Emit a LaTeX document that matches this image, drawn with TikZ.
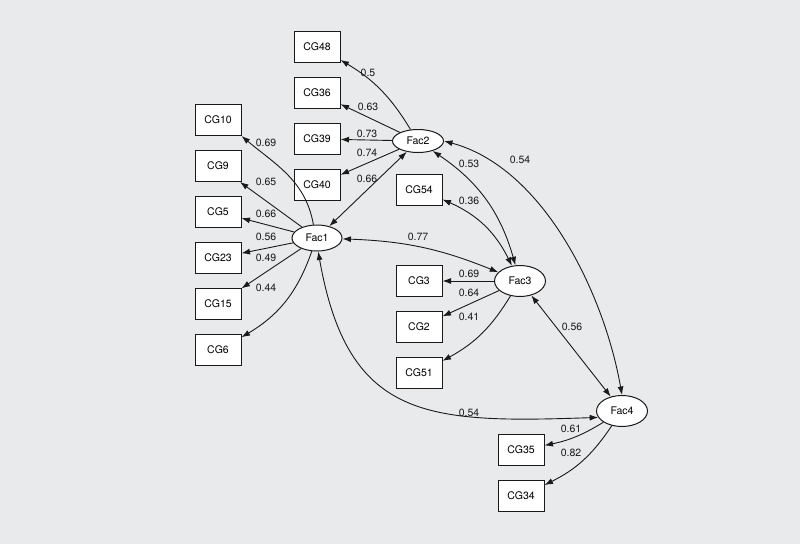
\documentclass[tikz,border=0pt]{standalone}
\usepackage{fontspec}
\setmainfont{TeX Gyre Heros}
\usetikzlibrary{arrows.meta,shapes.geometric}
\definecolor{bg}{HTML}{E9EAEC}
\definecolor{ln}{HTML}{1A1A1A}
\begin{document}
\begin{tikzpicture}[x=1pt,y=1pt, font=\fontsize{10.5}{12}\selectfont,
 obs/.style={draw=ln, fill=white, line width=1pt, minimum width=46pt, minimum height=31pt, inner sep=0pt},
 lat/.style={draw=ln, fill=white, ellipse, line width=1pt, minimum width=51pt, minimum height=29pt, inner sep=0pt},
 arr/.style={-{Latex[length=8.5pt,width=6pt]}, line width=0.9pt, draw=ln},
 darr/.style={{Latex[length=8.5pt,width=6pt]}-{Latex[length=8.5pt,width=6pt]}, line width=0.9pt, draw=ln},
 lbl/.style={text=ln, inner sep=0pt}]
\fill[bg] (0,0) rectangle (800,-544);
\useasboundingbox (0,0) rectangle (800,-544);
% observed
\node[obs] (cg48) at (317,-47) {CG48};
\node[obs] (cg36) at (317,-93) {CG36};
\node[obs] (cg39) at (317,-139) {CG39};
\node[obs] (cg40) at (317,-185) {CG40};
\node[obs] (cg10) at (218,-120) {CG10};
\node[obs] (cg9) at (218,-166) {CG9};
\node[obs] (cg5) at (218,-212) {CG5};
\node[obs] (cg23) at (218,-258) {CG23};
\node[obs] (cg15) at (218,-304) {CG15};
\node[obs] (cg6) at (218,-350) {CG6};
\node[obs] (cg54) at (419,-190) {CG54};
\node[obs] (cg3) at (419,-281) {CG3};
\node[obs] (cg2) at (419,-327) {CG2};
\node[obs] (cg51) at (419,-373) {CG51};
\node[obs] (cg35) at (521,-450) {CG35};
\node[obs] (cg34) at (521,-496) {CG34};
% latent
\node[lat, minimum height=23pt] (f2) at (418,-141) {Fac2};
\node[lat, minimum width=50pt, minimum height=26pt] (f1) at (317,-238) {Fac1};
\node[lat, minimum height=31pt] (f3) at (520,-281) {Fac3};
\node[lat, minimum height=31pt] (f4) at (622,-411) {Fac4};
% Fac2 loadings
\draw[arr] (f2) to[bend right=14] (cg48);
\draw[arr] (f2) -- (cg36);
\draw[arr] (f2) -- (cg39);
\draw[arr] (f2) -- (cg40);
% Fac1 loadings
\draw[arr] (f1.105) to[out=100,in=-40] (cg10.south east);
\draw[arr] (f1) -- (cg9);
\draw[arr] (f1) -- (cg5);
\draw[arr] (f1) -- (cg23);
\draw[arr] (f1) -- (cg15);
\draw[arr] (f1) to[bend left=20] (cg6);
% Fac3 loadings
\draw[darr] (f3) to[bend right=20] (cg54);
\draw[arr] (f3) -- (cg3);
\draw[arr] (f3) -- (cg2);
\draw[arr] (f3) to[bend left=15] (cg51);
% Fac4 loadings
\draw[arr] (f4) to[bend left=10] (cg35);
\draw[arr] (f4) to[bend left=15] (cg34);
% correlations
\draw[darr] (f1) -- (f2);
\draw[darr] (f1) to[bend left=10] (f3);
\draw[darr] (f1.-85) to[out=-80,in=182,looseness=1.35] (f4.195);
\draw[darr] (f2) to[bend left=20] (f3);
\draw[darr] (f2.east) to[out=-15,in=100,looseness=0.85] (f4.north);
\draw[darr] (f3) -- (f4);
% labels
\node[lbl] (l1) at (368,-73) {0.5};
\node[lbl] (l2) at (368,-107) {0.63};
\node[lbl] (l3) at (367,-134) {0.73};
\node[lbl] (l4) at (367,-153) {0.74};
\node[lbl] (l5) at (367,-179) {0.66};
\node[lbl] (l6) at (469,-164) {0.53};
\node[lbl] (l7) at (520,-160) {0.54};
\node[lbl] (l8) at (469,-201) {0.36};
\node[lbl] (l9) at (418,-237) {0.77};
\node[lbl] (l10) at (469,-274) {0.69};
\node[lbl] (l11) at (469,-293) {0.64};
\node[lbl] (l12) at (469,-317) {0.41};
\node[lbl] (l13) at (572,-327) {0.56};
\node[lbl] (l14) at (469,-413) {0.54};
\node[lbl] (l15) at (571,-429) {0.61};
\node[lbl] (l16) at (571,-453) {0.82};
\node[lbl] (l17) at (266,-143) {0.69};
\node[lbl] (l18) at (266,-182) {0.65};
\node[lbl] (l19) at (266,-214) {0.66};
\node[lbl] (l20) at (266,-237) {0.56};
\node[lbl] (l21) at (266,-258) {0.49};
\node[lbl] (l22) at (266,-288) {0.44};
\end{tikzpicture}
\end{document}
